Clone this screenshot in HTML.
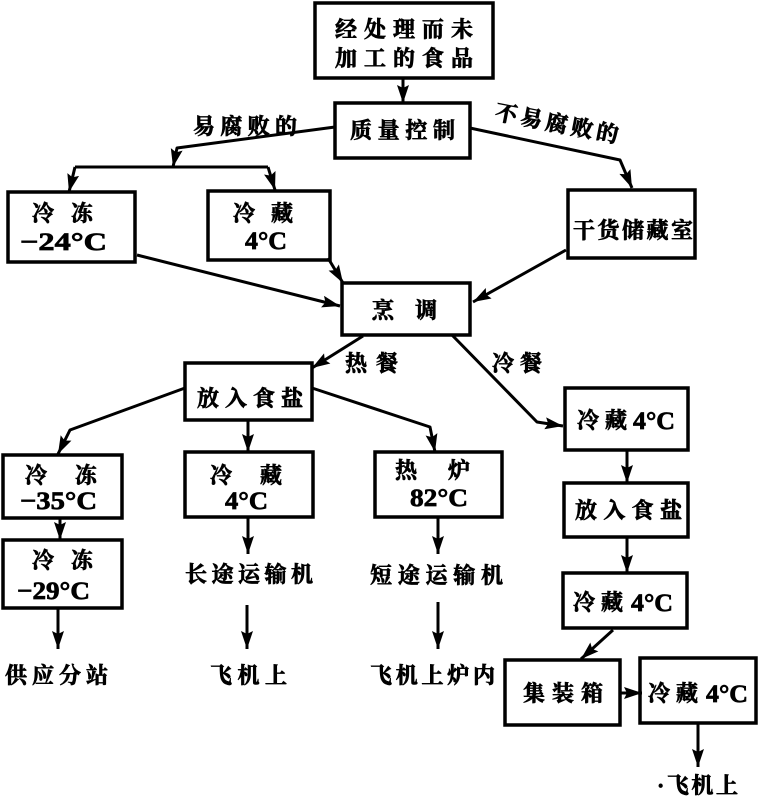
<!DOCTYPE html>
<html><head><meta charset="utf-8"><style>
html,body{margin:0;padding:0;background:#fff;}
svg{display:block;}
text{font-family:"Liberation Serif","Noto Serif CJK SC","Noto Sans CJK SC",serif;font-weight:bold;fill:#000;stroke:#000;stroke-width:0.7px;}
.cj{font-size:22px;}
.t{font-size:25px;}
</style></head><body>
<svg width="758" height="797" viewBox="0 0 758 797" xmlns="http://www.w3.org/2000/svg">
<defs>
<marker id="a" markerUnits="userSpaceOnUse" markerWidth="20" markerHeight="14" refX="18" refY="6" orient="auto">
<path d="M0,0 L18,6 L0,12 L3,6 z" fill="#000"/>
</marker>
</defs>
<g fill="none" stroke="#000" stroke-width="3.5">
<rect x="315" y="3" width="178" height="75"/>
<rect x="335" y="103" width="135" height="55"/>
<rect x="8" y="192" width="127" height="70"/>
<rect x="208" y="191" width="122" height="69"/>
<rect x="568" y="190" width="127" height="68"/>
<rect x="342" y="283" width="128" height="52"/>
<rect x="185" y="363" width="127" height="57"/>
<rect x="565" y="388" width="123" height="62"/>
<rect x="3" y="455" width="119" height="63"/>
<rect x="185" y="452" width="128" height="65"/>
<rect x="375" y="452" width="127" height="65"/>
<rect x="564" y="483" width="124" height="54"/>
<rect x="3" y="540" width="119" height="68"/>
<rect x="563" y="573" width="124" height="55"/>
<rect x="505" y="660" width="115" height="65"/>
<rect x="640" y="658" width="116" height="65"/>
</g>
<g fill="none" stroke="#000" stroke-width="3" stroke-linejoin="round">
<path d="M403,78 L403,103" marker-end="url(#a)"/>
<path d="M335,127 L177,148 L173,167" marker-end="url(#a)"/>
<path d="M75,167 L268,167"/>
<path d="M75,167 L69,192" marker-end="url(#a)"/>
<path d="M268,167 L275,190" marker-end="url(#a)"/>
<path d="M470,128 L620,160 L632,188" marker-end="url(#a)"/>
<path d="M137,255 L340,306" marker-end="url(#a)"/>
<path d="M328,258 L343,283" marker-end="url(#a)"/>
<path d="M566,250 L473,302" marker-end="url(#a)"/>
<path d="M363,336 L312,368" marker-end="url(#a)"/>
<path d="M452,335 L537,422 L563,426" marker-end="url(#a)"/>
<path d="M185,388 L70,430 L58,454" marker-end="url(#a)"/>
<path d="M248,420 L248,452" marker-end="url(#a)"/>
<path d="M312,388 L430,427 L435,452" marker-end="url(#a)"/>
<path d="M60,518 L60,540" marker-end="url(#a)"/>
<path d="M58,608 L58,649" marker-end="url(#a)"/>
<path d="M248,517 L248,554" marker-end="url(#a)"/>
<path d="M247,605 L247,649" marker-end="url(#a)"/>
<path d="M438,517 L438,554" marker-end="url(#a)"/>
<path d="M438,602 L438,649" marker-end="url(#a)"/>
<path d="M627,450 L627,483" marker-end="url(#a)"/>
<path d="M627,537 L627,573" marker-end="url(#a)"/>
<path d="M613,630 L581,659" marker-end="url(#a)"/>
<path d="M620,693 L642,693" marker-end="url(#a)"/>
<path d="M698,723 L698,767" marker-end="url(#a)"/>
</g>
<g class="cj">
<text x="335" y="37" textLength="138" lengthAdjust="spacing">经处理而未</text>
<text x="335" y="66" textLength="138" lengthAdjust="spacing">加工的食品</text>
<text x="350" y="138" textLength="105" lengthAdjust="spacing">质量控制</text>
<text x="193" y="134" textLength="104" lengthAdjust="spacing">易腐败的</text>
<text x="0" y="0" textLength="125" lengthAdjust="spacing" transform="translate(494,119) rotate(11)">不易腐败的</text>
<text x="32" y="221" textLength="61" lengthAdjust="spacing">冷 冻</text>
<text class="t" x="20" y="250" textLength="87" lengthAdjust="spacingAndGlyphs">−24°C</text>
<text x="233" y="221" textLength="60" lengthAdjust="spacing">冷 藏</text>
<text class="t" x="245" y="249" textLength="42" lengthAdjust="spacingAndGlyphs">4°C</text>
<text x="573" y="238" textLength="120" lengthAdjust="spacing">干货储藏室</text>
<text x="372" y="318" textLength="65" lengthAdjust="spacing">烹 调</text>
<text x="345" y="371" textLength="53" lengthAdjust="spacing">热 餐</text>
<text x="492" y="371" textLength="50" lengthAdjust="spacing">冷 餐</text>
<text x="197" y="406" textLength="106" lengthAdjust="spacing">放入食盐</text>
<text x="577" y="428" textLength="50" lengthAdjust="spacing">冷藏</text>
<text class="t" x="633" y="429" textLength="42" lengthAdjust="spacingAndGlyphs">4°C</text>
<text x="25" y="483" textLength="72" lengthAdjust="spacing">冷 冻</text>
<text class="t" x="20" y="509" textLength="77" lengthAdjust="spacingAndGlyphs">−35°C</text>
<text x="210" y="483" textLength="72" lengthAdjust="spacing">冷 藏</text>
<text class="t" x="225" y="509" textLength="43" lengthAdjust="spacingAndGlyphs">4°C</text>
<text x="395" y="478" textLength="75" lengthAdjust="spacing">热 炉</text>
<text class="t" x="410" y="506" textLength="58" lengthAdjust="spacingAndGlyphs">82°C</text>
<text x="575" y="518" textLength="107" lengthAdjust="spacing">放入食盐</text>
<text x="32" y="568" textLength="61" lengthAdjust="spacing">冷 冻</text>
<text class="t" x="17" y="599" textLength="73" lengthAdjust="spacingAndGlyphs">−29°C</text>
<text x="185" y="582" textLength="128" lengthAdjust="spacing">长途运输机</text>
<text x="370" y="583" textLength="133" lengthAdjust="spacing">短途运输机</text>
<text x="573" y="610" textLength="50" lengthAdjust="spacing">冷藏</text>
<text class="t" x="631" y="611" textLength="42" lengthAdjust="spacingAndGlyphs">4°C</text>
<text x="5" y="683" textLength="103" lengthAdjust="spacing">供应分站</text>
<text x="210" y="683" textLength="77" lengthAdjust="spacing">飞机上</text>
<text x="370" y="683" textLength="125" lengthAdjust="spacing">飞机上炉内</text>
<text x="523" y="701" textLength="80" lengthAdjust="spacing">集装箱</text>
<text x="648" y="701" textLength="50" lengthAdjust="spacing">冷藏</text>
<text class="t" x="706" y="702" textLength="42" lengthAdjust="spacingAndGlyphs">4°C</text>
<text x="657" y="793" textLength="81" lengthAdjust="spacing">·飞机上</text>
</g>
</svg>
</body></html>
